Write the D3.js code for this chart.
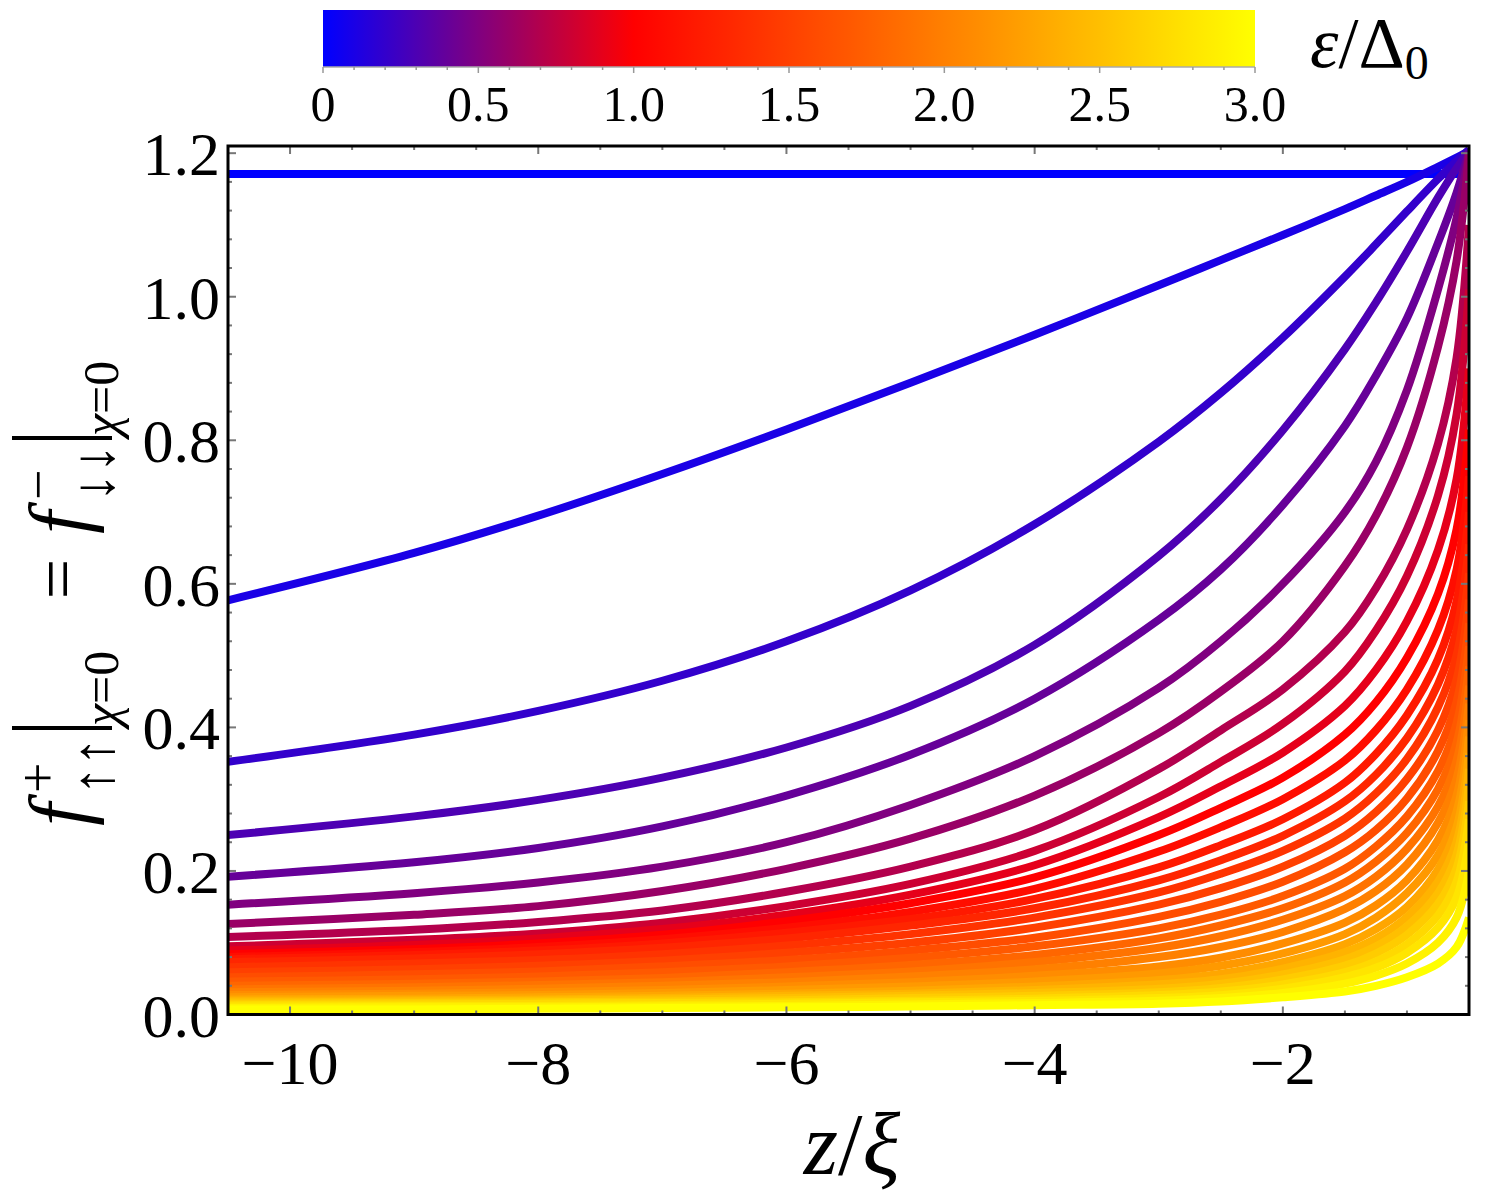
<!DOCTYPE html>
<html>
<head>
<meta charset="utf-8">
<script src="https://cdn.jsdelivr.net/npm/d3@7"></script>
<style>
  body { margin: 0; background: #fff; }
  text { font-family: "Liberation Serif", "Times New Roman", serif; fill: #000; }
</style>
</head>
<body>
<div id="chart"></div>
<script>
// z/xi sample positions shared by every curve
const zGrid = [-10.5, -9, -8, -7, -6, -5, -4, -3, -2.5, -2, -1.5, -1.25, -1, -0.75, -0.6, -0.5];

// energies eps/Delta0, one curve each
const energies = [0, 0.1, 0.2, 0.3, 0.4, 0.5, 0.6, 0.7, 0.8, 0.9, 1.0,
                  1.1, 1.2, 1.3, 1.4, 1.5, 1.6, 1.7, 1.8, 1.9, 2.0,
                  2.1, 2.2, 2.3, 2.4, 2.5, 2.6, 2.7, 2.8, 2.9, 3.0];

// f values, one row per energy, one column per zGrid entry
const fValues = [
  [1.171, 1.171, 1.171, 1.171, 1.171, 1.171, 1.171, 1.171, 1.171, 1.171, 1.171, 1.171, 1.171, 1.171, 1.171, 1.171],
  [0.577, 0.643, 0.695, 0.753, 0.815, 0.880, 0.947, 1.016, 1.051, 1.086, 1.122, 1.141, 1.160, 1.181, 1.194, 1.203],
  [0.352, 0.390, 0.423, 0.465, 0.520, 0.591, 0.683, 0.798, 0.866, 0.943, 1.028, 1.073, 1.119, 1.164, 1.189, 1.205],
  [0.250, 0.276, 0.299, 0.330, 0.372, 0.430, 0.515, 0.639, 0.718, 0.814, 0.927, 0.992, 1.063, 1.138, 1.179, 1.203],
  [0.192, 0.212, 0.232, 0.262, 0.305, 0.362, 0.440, 0.550, 0.620, 0.710, 0.820, 0.890, 0.970, 1.075, 1.145, 1.203],
  [0.153, 0.169, 0.184, 0.206, 0.240, 0.292, 0.360, 0.455, 0.520, 0.600, 0.700, 0.770, 0.870, 1.010, 1.110, 1.200],
  [0.126, 0.139, 0.151, 0.172, 0.203, 0.245, 0.305, 0.392, 0.450, 0.520, 0.625, 0.695, 0.790, 0.930, 1.050, 1.199],
  [0.108, 0.118, 0.129, 0.145, 0.171, 0.206, 0.257, 0.342, 0.396, 0.453, 0.533, 0.594, 0.676, 0.795, 0.915, 1.100],
  [0.095, 0.104, 0.113, 0.128, 0.151, 0.182, 0.228, 0.303, 0.352, 0.405, 0.478, 0.535, 0.611, 0.723, 0.836, 1.010],
  [0.089, 0.097, 0.106, 0.119, 0.139, 0.167, 0.208, 0.275, 0.318, 0.365, 0.430, 0.480, 0.548, 0.647, 0.746, 0.900],
  [0.084, 0.091, 0.099, 0.111, 0.130, 0.155, 0.191, 0.250, 0.288, 0.330, 0.390, 0.435, 0.497, 0.586, 0.676, 0.815],
  [0.080, 0.087, 0.094, 0.105, 0.121, 0.143, 0.175, 0.227, 0.261, 0.300, 0.354, 0.396, 0.453, 0.536, 0.620, 0.750],
  [0.077, 0.083, 0.089, 0.099, 0.114, 0.133, 0.161, 0.205, 0.236, 0.272, 0.323, 0.363, 0.417, 0.495, 0.576, 0.700],
  [0.073, 0.078, 0.084, 0.093, 0.106, 0.124, 0.148, 0.187, 0.215, 0.249, 0.297, 0.334, 0.385, 0.460, 0.536, 0.655],
  [0.066, 0.071, 0.076, 0.084, 0.096, 0.112, 0.135, 0.170, 0.196, 0.228, 0.273, 0.308, 0.356, 0.428, 0.501, 0.615],
  [0.059, 0.063, 0.068, 0.075, 0.086, 0.100, 0.121, 0.153, 0.176, 0.206, 0.249, 0.282, 0.328, 0.396, 0.467, 0.578],
  [0.052, 0.056, 0.060, 0.067, 0.076, 0.089, 0.107, 0.136, 0.157, 0.185, 0.226, 0.257, 0.301, 0.367, 0.436, 0.545],
  [0.046, 0.049, 0.053, 0.059, 0.067, 0.079, 0.095, 0.120, 0.139, 0.165, 0.203, 0.234, 0.276, 0.339, 0.406, 0.513],
  [0.040, 0.043, 0.046, 0.051, 0.059, 0.069, 0.083, 0.106, 0.124, 0.148, 0.184, 0.213, 0.253, 0.314, 0.379, 0.485],
  [0.035, 0.038, 0.041, 0.045, 0.052, 0.060, 0.073, 0.093, 0.109, 0.132, 0.165, 0.192, 0.231, 0.290, 0.354, 0.458],
  [0.031, 0.033, 0.036, 0.040, 0.045, 0.053, 0.063, 0.080, 0.094, 0.115, 0.147, 0.172, 0.209, 0.267, 0.329, 0.433],
  [0.027, 0.029, 0.031, 0.034, 0.039, 0.045, 0.054, 0.067, 0.079, 0.099, 0.128, 0.152, 0.187, 0.243, 0.305, 0.410],
  [0.024, 0.026, 0.027, 0.030, 0.034, 0.039, 0.046, 0.057, 0.068, 0.085, 0.112, 0.135, 0.169, 0.222, 0.283, 0.387],
  [0.021, 0.022, 0.024, 0.026, 0.029, 0.033, 0.039, 0.048, 0.057, 0.073, 0.098, 0.119, 0.150, 0.202, 0.261, 0.364],
  [0.019, 0.020, 0.021, 0.023, 0.026, 0.029, 0.034, 0.042, 0.049, 0.064, 0.087, 0.106, 0.136, 0.185, 0.241, 0.342],
  [0.017, 0.018, 0.019, 0.021, 0.023, 0.026, 0.030, 0.036, 0.043, 0.056, 0.077, 0.095, 0.123, 0.169, 0.223, 0.320],
  [0.015, 0.016, 0.017, 0.018, 0.020, 0.023, 0.026, 0.031, 0.037, 0.049, 0.068, 0.085, 0.111, 0.154, 0.204, 0.297],
  [0.013, 0.014, 0.015, 0.016, 0.017, 0.019, 0.022, 0.027, 0.032, 0.042, 0.059, 0.074, 0.098, 0.138, 0.185, 0.272],
  [0.011, 0.012, 0.012, 0.013, 0.015, 0.017, 0.019, 0.023, 0.027, 0.036, 0.052, 0.065, 0.086, 0.121, 0.163, 0.242],
  [0.009, 0.010, 0.010, 0.011, 0.012, 0.014, 0.016, 0.019, 0.023, 0.030, 0.043, 0.054, 0.071, 0.100, 0.135, 0.200],
  [0.007, 0.007, 0.008, 0.009, 0.010, 0.011, 0.013, 0.015, 0.018, 0.024, 0.032, 0.040, 0.052, 0.071, 0.094, 0.135]
];

const xTicks = [-10, -8, -6, -4, -2];
const yTicks = [0, 0.2, 0.4, 0.6, 0.8, 1.0, 1.2];
const barTicks = [0, 0.5, 1.0, 1.5, 2.0, 2.5, 3.0];

const W = 1489, H = 1199;
const plot = { left: 228, right: 1469, top: 146, bottom: 1014.5 };

const svg = d3.select("#chart").append("svg")
    .attr("width", W).attr("height", H);

const x = d3.scaleLinear().domain([-10.5, -0.5]).range([plot.left, plot.right]);
const y = d3.scaleLinear().domain([0, 1.21]).range([plot.bottom, plot.top]);
const color = d3.scaleLinear().domain([0, 1, 3])
    .range(["#0000ff", "#ff0000", "#ffff00"]).interpolate(d3.interpolateRgb);

svg.append("clipPath").attr("id", "clip")
  .append("rect")
    .attr("x", plot.left).attr("y", plot.top)
    .attr("width", plot.right - plot.left).attr("height", plot.bottom - plot.top);

// curves, low energy first so yellow ends up on top
const line = d3.line()
    .x(d => x(d[0]))
    .y(d => y(d[1]))
    .curve(d3.curveCatmullRom.alpha(0.5));

svg.append("g").attr("clip-path", "url(#clip)")
  .selectAll("path")
  .data(energies)
  .enter().append("path")
    .attr("fill", "none")
    .attr("stroke", e => color(e))
    .attr("stroke-width", 8)
    .attr("stroke-linejoin", "round")
    .attr("d", (e, i) => line(zGrid.map((z, j) => [z, fValues[i][j]])));

// frame ticks (inside, all four sides)
const tickCol = "#777";
const xMinor = d3.range(-10.5, -0.49, 0.5);
const yMinor = d3.range(0, 1.2001, 0.04);
const frame = svg.append("g").attr("stroke", tickCol).attr("stroke-width", 2);

xMinor.forEach(v => {
  const major = xTicks.some(t => Math.abs(t - v) < 1e-6);
  const len = major ? 8 : 4;
  frame.append("line").attr("x1", x(v)).attr("x2", x(v))
      .attr("y1", plot.bottom).attr("y2", plot.bottom - len);
  frame.append("line").attr("x1", x(v)).attr("x2", x(v))
      .attr("y1", plot.top).attr("y2", plot.top + len);
});
yMinor.forEach(v => {
  const major = yTicks.some(t => Math.abs(t - v) < 1e-6);
  const len = major ? 8 : 4;
  frame.append("line").attr("y1", y(v)).attr("y2", y(v))
      .attr("x1", plot.left).attr("x2", plot.left + len);
  frame.append("line").attr("y1", y(v)).attr("y2", y(v))
      .attr("x1", plot.right).attr("x2", plot.right - len);
});

svg.append("rect")
    .attr("x", plot.left).attr("y", plot.top)
    .attr("width", plot.right - plot.left).attr("height", plot.bottom - plot.top)
    .attr("fill", "none").attr("stroke", "#000").attr("stroke-width", 3);

// tick labels
svg.append("g").selectAll("text").data(xTicks).enter().append("text")
    .attr("x", d => x(d)).attr("y", 1084)
    .attr("text-anchor", "middle").style("font-size", "62px")
    .text(d => d3.format("d")(d).replace("-", "\u2212"));

svg.append("g").selectAll("text").data(yTicks).enter().append("text")
    .attr("x", 220).attr("y", d => y(d) + 22)
    .attr("text-anchor", "end").style("font-size", "62px")
    .text(d => d3.format(".1f")(d));

// x title
const xt = svg.append("text").attr("x", 852).attr("y", 1174)
    .attr("text-anchor", "middle").style("font-size", "88px");
xt.append("tspan").style("font-style", "italic").text("z");
xt.append("tspan").text("/");
xt.append("tspan").style("font-style", "italic").text("\u03be");

// y title, built piece by piece in a rotated frame (u = -pageY, v = pageX)
const yl = svg.append("g").attr("transform", "rotate(-90)");
function piece(txt, u, v, size, italic, anchor) {
  return yl.append("text").attr("x", u).attr("y", v)
    .attr("text-anchor", anchor || "start")
    .style("font-size", size + "px")
    .style("font-style", italic ? "italic" : "normal")
    .text(txt);
}
function chi(u) {
  const t = yl.append("text").attr("x", u).attr("y", 118).style("font-size", "50px");
  t.append("tspan").style("font-style", "italic").text("\u03c7");
  t.append("tspan").text("=0");
}
piece("f", -826, 86, 82, true);
piece("+", -793, 56, 54, false);
piece("\u2191\u2191", -795, 113, 58, false);
chi(-726);
piece("=", -579, 82, 72, false, "middle");
piece("f", -534, 86, 82, true);
piece("\u2212", -500, 56, 54, false);
piece("\u2193\u2193", -502, 113, 58, false);
chi(-436);
[728, 438].forEach(py => {
  svg.append("line").attr("x1", 12).attr("x2", 112).attr("y1", py).attr("y2", py)
     .attr("stroke", "#000").attr("stroke-width", 4);
});

// colour bar
const bar = { left: 323, right: 1255, top: 10, bottom: 67 };
const cb = d3.scaleLinear().domain([0, 3]).range([bar.left, bar.right]);
const grad = svg.append("defs").append("linearGradient").attr("id", "cbar");
d3.range(0, 3.001, 0.1).forEach(e => {
  grad.append("stop").attr("offset", (e / 3 * 100) + "%").attr("stop-color", color(e));
});
svg.append("rect")
    .attr("x", bar.left).attr("y", bar.top)
    .attr("width", bar.right - bar.left).attr("height", bar.bottom - bar.top)
    .attr("fill", "url(#cbar)");
svg.append("line").attr("x1", bar.left).attr("x2", bar.right)
    .attr("y1", bar.bottom).attr("y2", bar.bottom)
    .attr("stroke", "#aaa").attr("stroke-width", 1.5);

d3.range(0, 3.001, 0.1).forEach(e => {
  const major = barTicks.some(t => Math.abs(t - e) < 1e-6);
  svg.append("line").attr("x1", cb(e)).attr("x2", cb(e))
     .attr("y1", bar.bottom).attr("y2", bar.bottom + (major ? 6 : 3))
     .attr("stroke", "#999").attr("stroke-width", 1.5);
});
svg.append("g").selectAll("text").data(barTicks).enter().append("text")
    .attr("x", d => cb(d)).attr("y", 121)
    .attr("text-anchor", "middle").style("font-size", "50px")
    .text(d => d === 0 ? "0" : d3.format(".1f")(d));

const bl = svg.append("text").attr("x", 1310).attr("y", 67).style("font-size", "72px");
bl.append("tspan").style("font-style", "italic").text("\u03b5");
bl.append("tspan").text("/\u0394");
bl.append("tspan").attr("dy", 12).style("font-size", "48px").text("0");
</script>
</body>
</html>
